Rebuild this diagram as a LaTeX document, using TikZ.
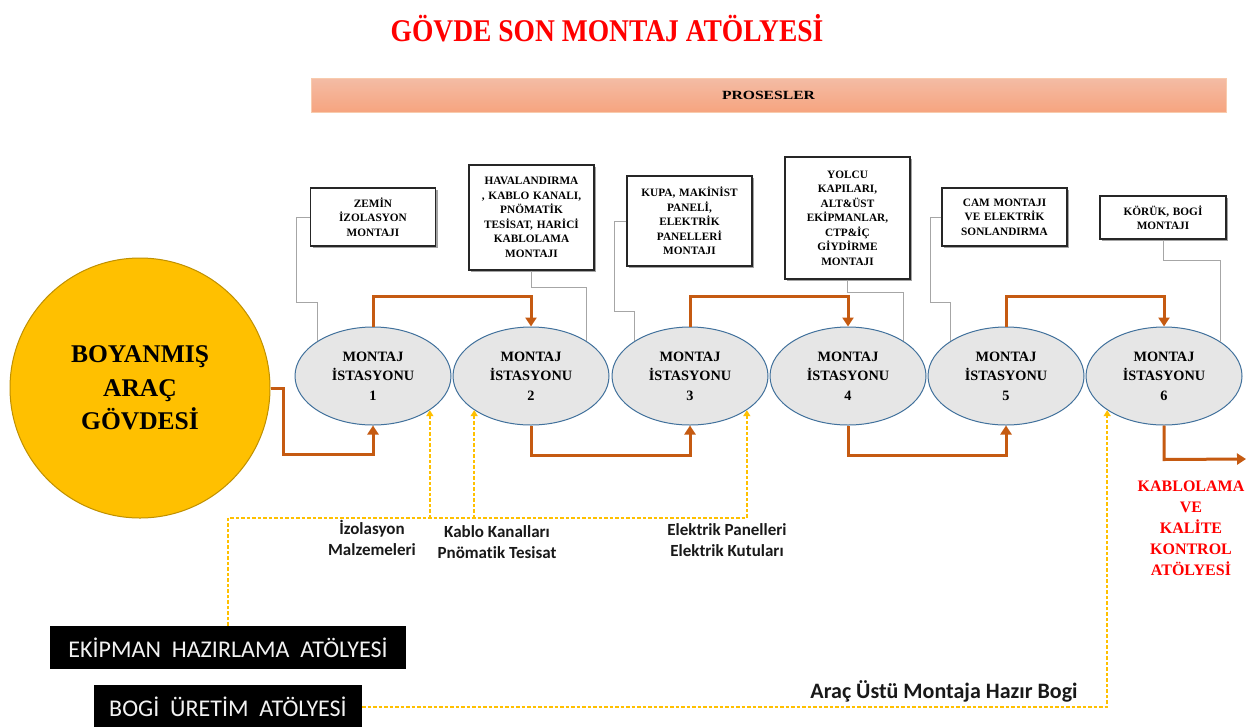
\documentclass[tikz,border=0pt]{standalone}
\usepackage{fontspec}
\setmainfont{Liberation Serif}
\newfontfamily\calib[Ligatures=NoCommon]{Carlito}
\usetikzlibrary{arrows.meta,shapes.geometric,shadows}
\definecolor{orng}{HTML}{C55A11}
\definecolor{gold}{HTML}{FFC000}
\definecolor{goldline}{HTML}{BF9000}
\definecolor{ellfill}{HTML}{E6E6E6}
\definecolor{ellline}{HTML}{41719C}
\definecolor{redt}{HTML}{FF0000}
\definecolor{barTop}{HTML}{F4BCA5}
\definecolor{barBot}{HTML}{F6A47F}
\definecolor{barLine}{HTML}{F8CBAD}
\definecolor{grayln}{HTML}{A6A6A6}
\tikzset{
  station/.style={ellipse, draw=ellline, line width=1pt, fill=ellfill,
    minimum width=156pt, minimum height=98pt, inner sep=0pt, align=center,
    font=\fontsize{14.3}{19.5}\selectfont\bfseries},
  procbox/.style={rectangle, draw=black!85, line width=1.3pt, fill=white,
    align=center, inner sep=2pt, font=\fontsize{11.3}{14.5}\selectfont\bfseries,
    drop shadow={shadow xshift=2pt, shadow yshift=-2pt, fill=black!45, opacity=0.8}},
  flow/.style={draw=orng, line width=3pt, -{Triangle[length=9pt,width=11pt]}},
  feed/.style={draw=gold, line width=1.6pt, dash pattern=on 3.5pt off 2pt,
    -{Triangle[length=6pt,width=7pt]}},
  link/.style={draw=grayln, line width=0.9pt},
  workshop/.style={fill=black, text=white!95!black, font=\calib\fontsize{24}{24}\selectfont,
    inner sep=0pt, minimum height=43pt},
  lbl/.style={font=\calib\bfseries\fontsize{17}{21}\selectfont, align=center, text=black!90},
}
\begin{document}
\begin{tikzpicture}[x=1pt,y=-1pt]
\useasboundingbox (0,0) rectangle (1252,726);
\fill[white] (0,0) rectangle (1252,726);

% title and process bar
\node[text=redt, font=\bfseries\fontsize{27.5}{27.5}\selectfont] (title) at (607,28)
  {\scalebox{1}[1.15]{GÖVDE SON MONTAJ ATÖLYESİ}};
\node[minimum width=915pt, minimum height=34pt, top color=barTop, bottom color=barBot,
  draw=barLine, line width=0.8pt, inner sep=0pt,
  font=\bfseries\fontsize{12.5}{12.5}\selectfont] (bar) at (768.5,95) {\scalebox{1.25}[1]{PROSESLER}};

% painted body
\node[circle, fill=gold, draw=goldline, line width=1pt, minimum size=260pt, inner sep=0pt,
  align=center, font=\bfseries\fontsize{25.5}{33.5}\selectfont] (circ) at (140,388)
  {BOYANMIŞ\\ARAÇ\\GÖVDESİ};

% stations
\node[station] (e1) at (373,376) {MONTAJ\\İSTASYONU\\1};
\node[station] (e2) at (531,376) {MONTAJ\\İSTASYONU\\2};
\node[station] (e3) at (690,376) {MONTAJ\\İSTASYONU\\3};
\node[station] (e4) at (848,376) {MONTAJ\\İSTASYONU\\4};
\node[station] (e5) at (1006,376) {MONTAJ\\İSTASYONU\\5};
\node[station] (e6) at (1164,376) {MONTAJ\\İSTASYONU\\6};

% process boxes
\node[procbox, text width=121pt, minimum height=58pt] (b1) at (373,217) {ZEMİN\\İZOLASYON\\MONTAJI};
\node[procbox, text width=121pt, minimum height=105pt] (b2) at (531.5,217.5) {HAVALANDIRMA\\, KABLO KANALI,\\PNÖMATİK\\TESİSAT, HARİCİ\\KABLOLAMA\\MONTAJI};
\node[procbox, text width=121pt, minimum height=90pt] (b3) at (689.5,221) {KUPA, MAKİNİST\\PANELİ,\\ELEKTRİK\\PANELLERİ\\MONTAJI};
\node[procbox, text width=121pt, minimum height=122pt] (b4) at (847.5,218) {YOLCU\\KAPILARI,\\ALT\&ÜST\\EKİPMANLAR,\\CTP\&İÇ\\GİYDİRME\\MONTAJI};
\node[procbox, text width=121pt, minimum height=58pt] (b5) at (1004.5,217) {CAM MONTAJI\\VE ELEKTRİK\\SONLANDIRMA};
\node[procbox, text width=122pt, minimum height=43pt] (b6) at (1163,217.5) {KÖRÜK, BOGİ\\MONTAJI};

% gray links
\draw[link] (b1.west) -- ++(-13,0) -- ++(0,85) -| (e1.148);
\draw[link] (b2.south) -- ++(0,17) -| (e2.32);
\draw[link] (b3.west) -- ++(-12,0) -- ++(0,90) -| (e3.148);
\draw[link] (b4.south) -- ++(0,13) -| (e4.32);
\draw[link] (b5.west) -- ++(-11,0) -- ++(0,85) -| (e5.148);
\draw[link] (b6.south) -- ++(0,21) -| (e6.31);

% orange flow
\coordinate (kout) at (1246,459);
\draw[flow] (circ.east) -- ++(13,0) -- ++(0,66) -| (e1.south);
\draw[flow] (e1.north) -- ++(0,-30) -| (e2.north);
\draw[flow] (e2.south) -- ++(0,30) -| (e3.south);
\draw[flow] (e3.north) -- ++(0,-30) -| (e4.north);
\draw[flow] (e4.south) -- ++(0,30) -| (e5.south);
\draw[flow] (e5.north) -- ++(0,-30) -| (e6.north);
\draw[flow] (e6.south) -- ++(0,34) -- (kout);

% workshops
\node[workshop, minimum width=356pt] (ekip) at (228,647.5) {EKİPMAN\ \ HAZIRLAMA\ \ ATÖLYESİ};
\node[workshop, minimum width=268pt, minimum height=44pt] (bogi) at (228,707) {BOGİ\ \ ÜRETİM\ \ ATÖLYESİ};

% yellow supply lines
\coordinate (feedy) at (0,518);
\draw[feed] (ekip.north) -- ++(0,-108) -| (e3.-31);
\draw[feed] (e1.-31 |- feedy) -- (e1.-31);
\draw[feed] (e2.-149 |- feedy) -- (e2.-149);
\draw[feed] (bogi.east) -| (e6.-149);

% labels
\node[lbl] (lz) at (372,538) {İzolasyon\\Malzemeleri};
\node[lbl] (lk) at (497,542) {Kablo Kanalları\\Pnömatik Tesisat};
\node[lbl] (le) at (727,540) {Elektrik Panelleri\\Elektrik Kutuları};
\node[font=\calib\bfseries\fontsize{22}{22}\selectfont, text=black!90] (la) at (944,691) {Araç Üstü Montaja Hazır Bogi};
\node[font=\bfseries\fontsize{16}{21}\selectfont, text=redt, align=center] (kk) at (1191,528)
  {KABLOLAMA\\VE\\KALİTE\\KONTROL\\ATÖLYESİ};
\end{tikzpicture}
\end{document}
